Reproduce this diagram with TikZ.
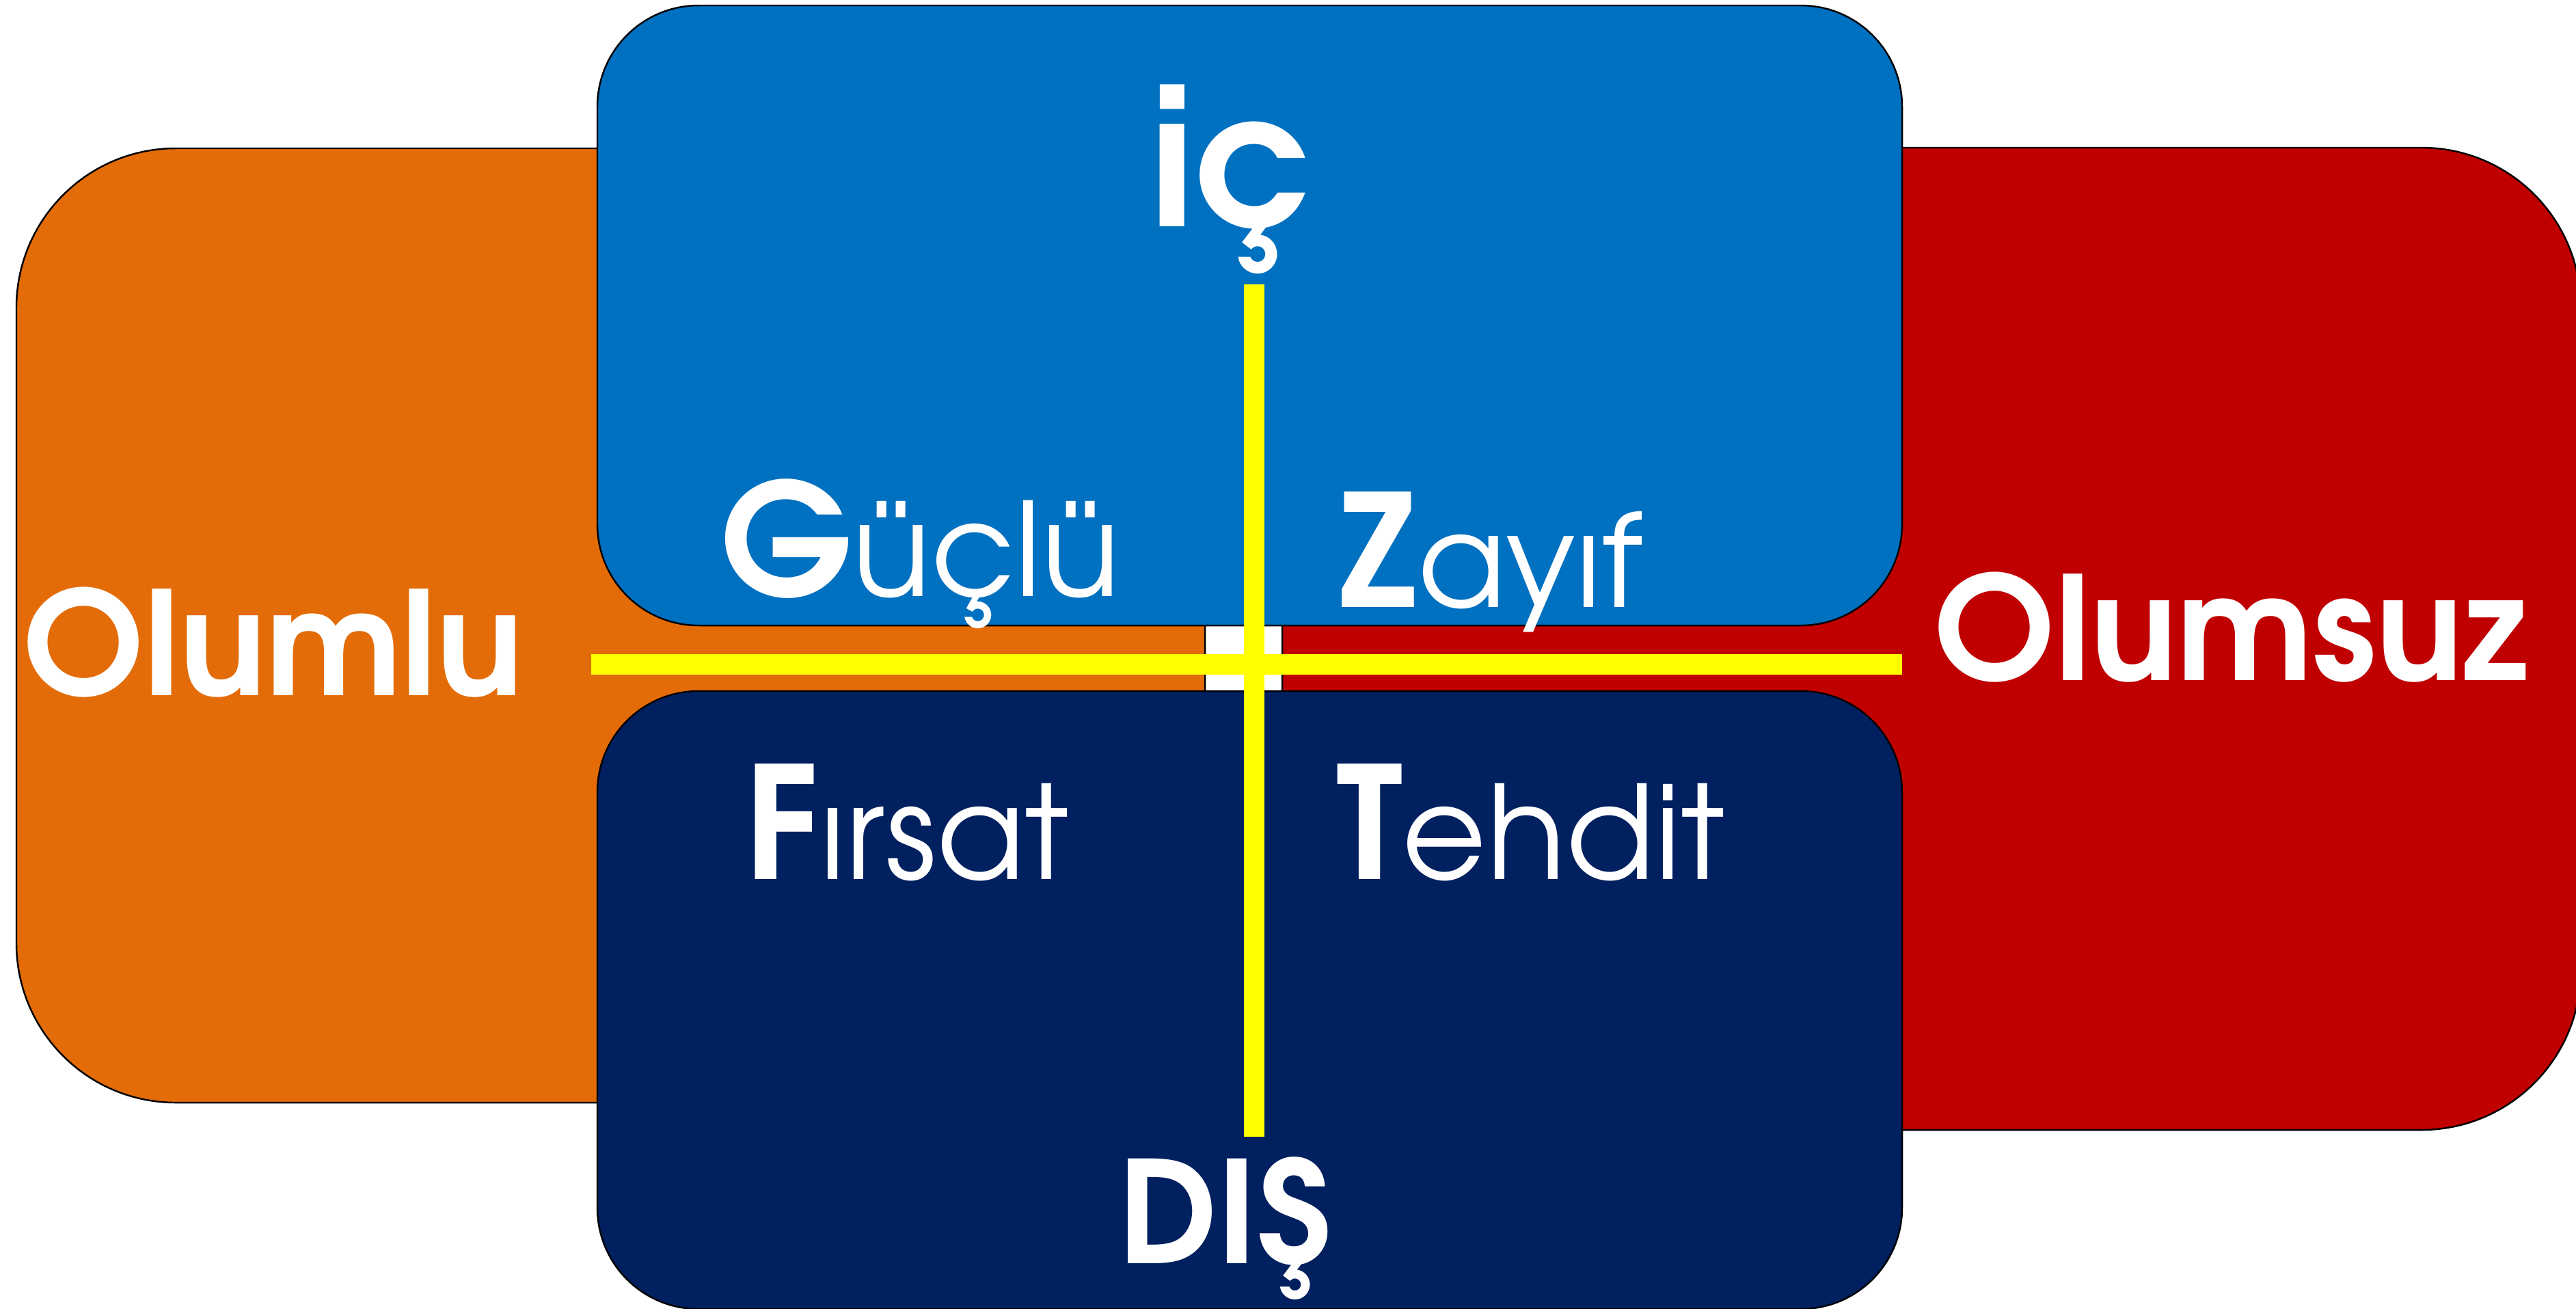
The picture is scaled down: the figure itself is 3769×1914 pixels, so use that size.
\documentclass[tikz,border=0pt]{standalone}
\usepackage{fontspec}
\setmainfont{texgyreadventor}[Extension=.otf, UprightFont=*-regular, BoldFont=*-bold]
\definecolor{swotOrange}{HTML}{E36C09}
\definecolor{swotRed}{HTML}{C00000}
\definecolor{swotBlue}{HTML}{0070C0}
\definecolor{swotNavy}{HTML}{002060}
\definecolor{swotYellow}{HTML}{FFFF00}
\newcommand\swotInit{\fontsize{65}{65}\selectfont\bfseries}
\newcommand\swotRest{\fontsize{54}{54}\selectfont\mdseries}
\begin{document}
\begin{tikzpicture}[x=0.01cm, y=-0.01cm,
  panel/.style={draw=black, line width=0.7pt},
  bar/.style={draw=swotYellow, line width=0.3cm},
  word/.style={text=white, inner sep=0pt, anchor=base west}]
\useasboundingbox (0,0) rectangle (3769,1914);
\begin{scope}
\clip (0,0) rectangle (3769,1914);
% side panels
\draw[panel, fill=swotOrange, rounded corners=2.33cm] (24,217) rectangle (1763,1613);
\draw[panel, fill=swotRed, rounded corners=2.33cm] (1876,216) rectangle (3776,1653);
% inner panels
\draw[panel, fill=swotBlue, rounded corners=1.48cm] (874,8) rectangle (2783,915);
\draw[panel, fill=swotNavy, rounded corners=1.48cm] (874,1011) rectangle (2783,1915);
\end{scope}
% cross bars
\coordinate (vtop) at (1834.5,416);
\coordinate (vbot) at (1834.5,1663);
\coordinate (hleft) at (865,971.5);
\coordinate (hright) at (2783,971.5);
\draw[bar] (vtop) -- (vbot);
\draw[bar] (hleft) -- (hright);
% labels
\node[word] (ic) at (1682,331) {\fontsize{77}{77}\selectfont\bfseries iç};
\node[word] (dis) at (1636,1848) {\fontsize{59}{59}\selectfont\bfseries DIŞ};
\node[word] (olumlu) at (34,1017) {\fontsize{60}{60}\selectfont\bfseries Olumlu};
\node[word] (olumsuz) at (2830,995) {\fontsize{60}{60}\selectfont\bfseries Olumsuz};
\node[word] (guclu) at (1054,872) {{\swotInit G}{\swotRest üçlü}};
\node[word] (zayif) at (1959,888) {{\swotInit Z}{\swotRest ayıf}};
\node[word] (firsat) at (1089,1286) {{\swotInit F}{\swotRest ırsat}};
\node[word] (tehdit) at (1955,1286) {{\swotInit T}{\swotRest ehdit}};
\end{tikzpicture}
\end{document}
